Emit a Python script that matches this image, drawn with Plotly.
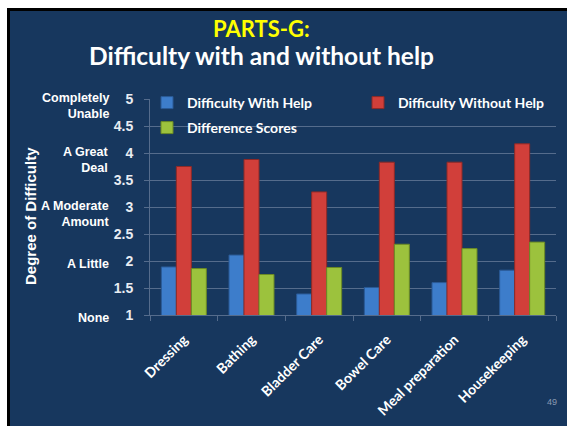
import plotly.graph_objects as go

# Data
categories = ["Dressing", "Bathing", "Bladder Care", "Bowel Care", "Meal preparation", "Housekeeping"]
with_help = [1.89, 2.11, 1.39, 1.51, 1.60, 1.83]
without_help = [3.75, 3.88, 3.28, 3.83, 3.83, 4.17]
difference = [1.86, 1.75, 1.88, 2.31, 2.23, 2.35]

y_ticks = [1, 1.5, 2, 2.5, 3, 3.5, 4, 4.5, 5]
level_labels = ["None", "A Little", "A Moderate<br>Amount", "A Great<br>Deal", "Completely<br>Unable"]
level_values = [1, 2, 3, 4, 5]

NAVY = "#17375E"
WHITE = "#FFFFFF"
BLUE = "#3D7DCB"
RED = "#D13F3A"
GREEN = "#9CC23D"
GRID = "rgba(200,210,225,0.35)"
ARIAL = "Arial, Liberation Sans, sans-serif"
CALIBRI = "Lato, Open Sans, sans-serif"

# plot area in page pixels: x 150..556, y 99..315
L, R, T, B = 150, 11, 99, 111
W, H = 567, 426
PW, PH = W - L - R, H - T - B


def px_x(p):
    return (p - L) / PW


def px_y(p):
    return (H - B - p) / PH


fig = go.Figure()
series = [
    ("Difficulty With Help", with_help, BLUE, "#2A5A96", "legend", 147, 103),
    ("Difficulty Without Help", without_help, RED, "#8E2A27", "legend2", 358, 103),
    ("Difference Scores", difference, GREEN, "#6B8A25", "legend3", 147, 128),
]
legends = {}
for name, vals, col, edge, leg, lx, ly in series:
    fig.add_trace(go.Bar(
        x=categories, y=vals, name=name, legend=leg,
        marker=dict(color=col, line=dict(color=edge, width=1)),
    ))
    legends[leg] = dict(
        x=px_x(lx), y=px_y(ly), xanchor="left", yanchor="middle",
        bgcolor="rgba(0,0,0,0)", borderwidth=0,
        font=dict(family=CALIBRI, size=14, color=WHITE, weight="bold"),
    )

fig.update_layout(
    width=W, height=H,
    paper_bgcolor=NAVY, plot_bgcolor=NAVY,
    margin=dict(l=L, r=R, t=T, b=B, autoexpand=False),
    barmode="group", bargap=0.335, bargroupgap=0,
    font=dict(family=CALIBRI, color=WHITE),
    showlegend=True,
    **legends,
)
fig.update_xaxes(
    showgrid=False, showline=True, linecolor=GRID, linewidth=1,
    ticks="outside", tickson="boundaries", ticklen=5, tickcolor=GRID,
    tickangle=-45, ticklabelstandoff=10,
    tickfont=dict(family=CALIBRI, size=14, color=WHITE, weight="bold"),
)
fig.update_yaxes(
    range=[1, 5], tickvals=y_ticks, ticktext=[f"{v:g}" for v in y_ticks],
    showgrid=True, gridcolor=GRID, gridwidth=1,
    showline=True, linecolor=GRID, linewidth=1, zeroline=False,
    ticks="outside", ticklen=5, tickcolor=GRID, ticklabelstandoff=8,
    tickfont=dict(family=ARIAL, size=14, color="#E8ECF2", weight="bold"),
)

# descriptive level labels
for lab, v in zip(level_labels, level_values):
    fig.add_annotation(
        text=lab, x=px_x(111), xref="paper", y=v, yref="y",
        xanchor="right", yanchor="middle", showarrow=False, align="right",
        yshift=-7 if "<br>" in lab else -3,
        font=dict(family=ARIAL, size=12.5, color=WHITE, weight="bold"),
    )

# axis title
fig.add_annotation(
    text="Degree of Difficulty", textangle=-90, x=px_x(30), y=px_y(216),
    xref="paper", yref="paper", xanchor="center", yanchor="middle", showarrow=False,
    font=dict(family=ARIAL, size=15, color=WHITE, weight="bold"),
)

# slide title
fig.add_annotation(
    text="PARTS-G:", x=px_x(261), y=px_y(28), xref="paper", yref="paper",
    xanchor="center", yanchor="middle", showarrow=False,
    font=dict(family=CALIBRI, size=22, color="#FFFF00", weight="bold"),
)
fig.add_annotation(
    text="Difficulty with and without help", x=px_x(261), y=px_y(56), xref="paper", yref="paper",
    xanchor="center", yanchor="middle", showarrow=False,
    font=dict(family=CALIBRI, size=24.5, color=WHITE, weight="bold"),
)

# slide number
fig.add_annotation(
    text="49", x=px_x(552), y=px_y(402), xref="paper", yref="paper",
    xanchor="center", yanchor="middle", showarrow=False,
    font=dict(family=ARIAL, size=9, color="#8A9BB3"),
)

# white margin and black frame at top/left of the slide
fig.add_shape(type="rect", xref="paper", yref="paper", x0=px_x(0), x1=px_x(W), y0=px_y(0), y1=px_y(8),
              fillcolor="white", line_width=0, layer="above")
fig.add_shape(type="rect", xref="paper", yref="paper", x0=px_x(0), x1=px_x(7), y0=px_y(0), y1=px_y(H),
              fillcolor="white", line_width=0, layer="above")
fig.add_shape(type="rect", xref="paper", yref="paper", x0=px_x(7), x1=px_x(W), y0=px_y(8), y1=px_y(11),
              fillcolor="black", line_width=0, layer="above")
fig.add_shape(type="rect", xref="paper", yref="paper", x0=px_x(7), x1=px_x(10), y0=px_y(8), y1=px_y(H),
              fillcolor="black", line_width=0, layer="above")

fig.write_html(
    "out.html",
    config={"displayModeBar": False},
    post_script="document.body.style.margin='0';document.body.style.overflow='hidden';",
)
